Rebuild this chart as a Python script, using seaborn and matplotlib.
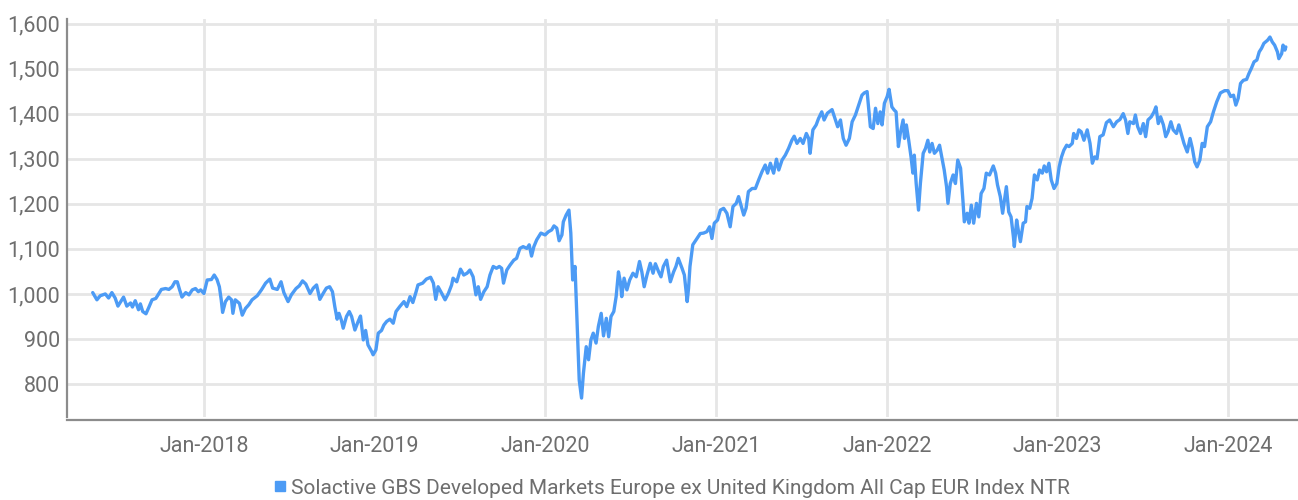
import matplotlib
matplotlib.use("Agg")
import matplotlib.pyplot as plt
import matplotlib.dates as mdates
from matplotlib.lines import Line2D
from matplotlib.ticker import FuncFormatter
import seaborn as sns
import pandas as pd

series_name = "Solactive GBS Developed Markets Europe ex United Kingdom All Cap EUR Index NTR"

dates = [
    "2017-05-08", "2017-05-17", "2017-05-24", "2017-06-04", "2017-06-11", "2017-06-18", "2017-06-25",
    "2017-07-01", "2017-07-13", "2017-07-20", "2017-07-28", "2017-08-01", "2017-08-07", "2017-08-14",
    "2017-08-18", "2017-08-23", "2017-08-30", "2017-09-05", "2017-09-12", "2017-09-20", "2017-10-02",
    "2017-10-11", "2017-10-18", "2017-10-25", "2017-10-31", "2017-11-05", "2017-11-10", "2017-11-15",
    "2017-11-23", "2017-11-30", "2017-12-07", "2017-12-14", "2017-12-20", "2017-12-25", "2018-01-01",
    "2018-01-08", "2018-01-17", "2018-01-23", "2018-01-29", "2018-02-03", "2018-02-07", "2018-02-10",
    "2018-02-16", "2018-02-23", "2018-03-01", "2018-03-04", "2018-03-09", "2018-03-18", "2018-03-24",
    "2018-03-31", "2018-04-07", "2018-04-14", "2018-04-25", "2018-05-04", "2018-05-13", "2018-05-22",
    "2018-05-28", "2018-06-07", "2018-06-15", "2018-06-21", "2018-06-28", "2018-06-30", "2018-07-07",
    "2018-07-17", "2018-07-24", "2018-07-31", "2018-08-07", "2018-08-16", "2018-08-23", "2018-08-30",
    "2018-09-06", "2018-09-13", "2018-09-20", "2018-09-27", "2018-10-03", "2018-10-08", "2018-10-13",
    "2018-10-17", "2018-10-22", "2018-10-26", "2018-11-02", "2018-11-08", "2018-11-13", "2018-11-20",
    "2018-11-27", "2018-12-02", "2018-12-08", "2018-12-13", "2018-12-18", "2018-12-26", "2018-12-29",
    "2019-01-04", "2019-01-09", "2019-01-16", "2019-01-21", "2019-01-27", "2019-02-03", "2019-02-10",
    "2019-02-16", "2019-02-24", "2019-03-05", "2019-03-11", "2019-03-18", "2019-03-24", "2019-03-31",
    "2019-04-04", "2019-04-14", "2019-04-22", "2019-05-01", "2019-05-07", "2019-05-12", "2019-05-17",
    "2019-05-25", "2019-06-01", "2019-06-08", "2019-06-15", "2019-06-18", "2019-06-26", "2019-07-04",
    "2019-07-11", "2019-07-18", "2019-07-24", "2019-07-31", "2019-08-06", "2019-08-11", "2019-08-16",
    "2019-08-23", "2019-08-30", "2019-09-05", "2019-09-12", "2019-09-19", "2019-09-25", "2019-09-30",
    "2019-10-04", "2019-10-11", "2019-10-18", "2019-10-26", "2019-11-01", "2019-11-08", "2019-11-15",
    "2019-11-23", "2019-11-28", "2019-12-03", "2019-12-08", "2019-12-14", "2019-12-23", "2020-01-01",
    "2020-01-08", "2020-01-15", "2020-01-20", "2020-01-26", "2020-01-31", "2020-02-06", "2020-02-09",
    "2020-02-15", "2020-02-21", "2020-02-25", "2020-02-29", "2020-03-05", "2020-03-10", "2020-03-14",
    "2020-03-19", "2020-03-23", "2020-03-29", "2020-04-03", "2020-04-08", "2020-04-13", "2020-04-19",
    "2020-04-24", "2020-04-30", "2020-05-05", "2020-05-11", "2020-05-16", "2020-05-21", "2020-05-27",
    "2020-06-01", "2020-06-06", "2020-06-10", "2020-06-13", "2020-06-18", "2020-06-24", "2020-06-30",
    "2020-07-07", "2020-07-14", "2020-07-21", "2020-07-26", "2020-07-31", "2020-08-06", "2020-08-13",
    "2020-08-19", "2020-08-24", "2020-08-31", "2020-09-05", "2020-09-10", "2020-09-17", "2020-09-25",
    "2020-10-02", "2020-10-07", "2020-10-12", "2020-10-20", "2020-10-25", "2020-10-31", "2020-11-03",
    "2020-11-06", "2020-11-12", "2020-11-19", "2020-11-28", "2020-12-05", "2020-12-12", "2020-12-18",
    "2020-12-23", "2020-12-28", "2021-01-04", "2021-01-10", "2021-01-17", "2021-01-24", "2021-01-31",
    "2021-02-06", "2021-02-13", "2021-02-18", "2021-02-23", "2021-03-01", "2021-03-06", "2021-03-11",
    "2021-03-19", "2021-03-26", "2021-04-02", "2021-04-09", "2021-04-16", "2021-04-21", "2021-04-27",
    "2021-05-04", "2021-05-10", "2021-05-15", "2021-05-22", "2021-05-29", "2021-06-05", "2021-06-12",
    "2021-06-17", "2021-06-23", "2021-06-30", "2021-07-06", "2021-07-13", "2021-07-18", "2021-07-21",
    "2021-07-27", "2021-08-03", "2021-08-08", "2021-08-15", "2021-08-20", "2021-08-27", "2021-09-06",
    "2021-09-11", "2021-09-18", "2021-09-24", "2021-09-30", "2021-10-06", "2021-10-13", "2021-10-19",
    "2021-10-26", "2021-11-02", "2021-11-09", "2021-11-14", "2021-11-20", "2021-11-27", "2021-12-03",
    "2021-12-08", "2021-12-13", "2021-12-18", "2021-12-22", "2021-12-27", "2022-01-02", "2022-01-06",
    "2022-01-12", "2022-01-17", "2022-01-21", "2022-01-26", "2022-01-30", "2022-02-05", "2022-02-08",
    "2022-02-12", "2022-02-17", "2022-02-22", "2022-02-26", "2022-03-01", "2022-03-05", "2022-03-10",
    "2022-03-14", "2022-03-20", "2022-03-25", "2022-03-30", "2022-04-03", "2022-04-08", "2022-04-13",
    "2022-04-19", "2022-04-24", "2022-04-30", "2022-05-04", "2022-05-09", "2022-05-12", "2022-05-17",
    "2022-05-23", "2022-05-28", "2022-06-02", "2022-06-08", "2022-06-13", "2022-06-16", "2022-06-22",
    "2022-06-26", "2022-07-01", "2022-07-06", "2022-07-12", "2022-07-17", "2022-07-22", "2022-07-28",
    "2022-08-02", "2022-08-09", "2022-08-17", "2022-08-22", "2022-08-26", "2022-09-01", "2022-09-06",
    "2022-09-10", "2022-09-14", "2022-09-19", "2022-09-24", "2022-09-29", "2022-10-01", "2022-10-06",
    "2022-10-10", "2022-10-14", "2022-10-20", "2022-10-25", "2022-10-28", "2022-11-03", "2022-11-08",
    "2022-11-13", "2022-11-19", "2022-11-24", "2022-11-30", "2022-12-04", "2022-12-09", "2022-12-14",
    "2022-12-19", "2022-12-25", "2022-12-31", "2023-01-05", "2023-01-10", "2023-01-15", "2023-01-21",
    "2023-01-26", "2023-02-02", "2023-02-05", "2023-02-11", "2023-02-16", "2023-02-21", "2023-02-27",
    "2023-03-06", "2023-03-12", "2023-03-17", "2023-03-22", "2023-03-27", "2023-04-02", "2023-04-09",
    "2023-04-16", "2023-04-23", "2023-05-01", "2023-05-08", "2023-05-15", "2023-05-22", "2023-05-27",
    "2023-06-01", "2023-06-05", "2023-06-13", "2023-06-17", "2023-06-22", "2023-06-28", "2023-07-04",
    "2023-07-09", "2023-07-14", "2023-07-21", "2023-07-27", "2023-07-31", "2023-08-05", "2023-08-10",
    "2023-08-16", "2023-08-21", "2023-08-26", "2023-09-01", "2023-09-06", "2023-09-13", "2023-09-18",
    "2023-09-23", "2023-09-29", "2023-10-06", "2023-10-12", "2023-10-17", "2023-10-22", "2023-10-27",
    "2023-11-02", "2023-11-07", "2023-11-12", "2023-11-18", "2023-11-25", "2023-12-01", "2023-12-08",
    "2023-12-16", "2023-12-25", "2024-01-01", "2024-01-07", "2024-01-13", "2024-01-18", "2024-01-23",
    "2024-01-28", "2024-02-03", "2024-02-10", "2024-02-15", "2024-02-20", "2024-02-26", "2024-03-03",
    "2024-03-08", "2024-03-13", "2024-03-18", "2024-03-26", "2024-03-31", "2024-04-05", "2024-04-10",
    "2024-04-16", "2024-04-19", "2024-04-25", "2024-04-28", "2024-05-02", "2024-05-04",
]

values = [
    1003, 987, 996, 1000, 991, 1003, 991,
    973, 993, 973, 980, 971, 985, 965,
    978, 961, 956, 970, 987, 990, 1010,
    1012, 1010, 1016, 1027, 1027, 1009, 993,
    1003, 998, 1009, 1012, 1005, 1009, 1001,
    1031, 1032, 1042, 1032, 1016, 987, 959,
    983, 993, 987, 957, 987, 979, 953,
    968, 976, 987, 996, 1009, 1024, 1033,
    1013, 1010, 1027, 1003, 987, 983, 998,
    1012, 1018, 1029, 1022, 1001, 1013, 1020,
    988, 1001, 1013, 1016, 1005, 972, 944,
    957, 942, 924, 950, 961, 950, 920,
    939, 951, 898, 919, 887, 872, 865,
    876, 913, 919, 931, 939, 944, 935,
    961, 972, 983, 972, 994, 981, 1005,
    1020, 1024, 1033, 1037, 1024, 988, 1016,
    1001, 987, 1001, 1020, 1035, 1027, 1055,
    1042, 1046, 1053, 1038, 998, 1016, 988,
    1005, 1016, 1042, 1061, 1057, 1061, 1057,
    1024, 1053, 1064, 1075, 1079, 1101, 1105,
    1101, 1109, 1084, 1105, 1120, 1135, 1131,
    1138, 1142, 1151, 1146, 1118, 1131, 1160,
    1175, 1186, 1135, 1031, 1061, 920, 809,
    769, 824, 883, 854, 898, 913, 891,
    928, 957, 907, 946, 905, 950, 961,
    994, 1049, 1027, 994, 1035, 1009, 1031,
    1046, 1038, 1072, 1049, 1016, 1042, 1068,
    1046, 1067, 1049, 1038, 1061, 1075, 1027,
    1049, 1061, 1079, 1057, 1042, 983, 1013,
    1061, 1109, 1120, 1134, 1135, 1138, 1149,
    1123, 1157, 1164, 1186, 1190, 1179, 1149,
    1194, 1201, 1216, 1197, 1175, 1190, 1227,
    1234, 1234, 1253, 1271, 1286, 1268, 1290,
    1268, 1299, 1275, 1297, 1308, 1323, 1341,
    1350, 1334, 1345, 1334, 1356, 1345, 1312,
    1364, 1375, 1389, 1404, 1386, 1401, 1409,
    1393, 1371, 1386, 1345, 1330, 1345, 1382,
    1397, 1419, 1441, 1446, 1449, 1371, 1367,
    1412, 1378, 1404, 1375, 1423, 1438, 1454,
    1415, 1408, 1404, 1327, 1356, 1386, 1345,
    1375, 1341, 1304, 1268, 1308, 1245, 1186,
    1245, 1312, 1323, 1341, 1315, 1334, 1312,
    1319, 1330, 1297, 1275, 1238, 1201, 1245,
    1264, 1245, 1297, 1279, 1208, 1160, 1179,
    1157, 1197, 1157, 1201, 1171, 1223, 1234,
    1268, 1264, 1284, 1268, 1242, 1216, 1179,
    1208, 1238, 1182, 1171, 1127, 1105, 1164,
    1138, 1116, 1157, 1160, 1194, 1190, 1212,
    1264, 1253, 1275, 1268, 1284, 1271, 1290,
    1253, 1234, 1245, 1282, 1304, 1319, 1330,
    1327, 1334, 1356, 1345, 1364, 1360, 1341,
    1364, 1334, 1290, 1304, 1300, 1349, 1353,
    1380, 1386, 1371, 1382, 1387, 1400, 1386,
    1356, 1382, 1378, 1397, 1371, 1356, 1378,
    1349, 1386, 1393, 1404, 1415, 1378, 1393,
    1375, 1349, 1360, 1382, 1364, 1356, 1375,
    1356, 1334, 1315, 1345, 1323, 1293, 1282,
    1297, 1334, 1327, 1371, 1382, 1404, 1426,
    1446, 1451, 1451, 1438, 1441, 1419, 1434,
    1467, 1474, 1476, 1489, 1500, 1515, 1519,
    1537, 1545, 1556, 1563, 1570, 1559, 1552,
    1537, 1522, 1533, 1552, 1541, 1548,
]

y_ticks = [800, 900, 1000, 1100, 1200, 1300, 1400, 1500, 1600]
x_tick_dates = ["2018-01-01", "2019-01-01", "2020-01-01", "2021-01-01",
                "2022-01-01", "2023-01-01", "2024-01-01"]

df = pd.DataFrame({"date": pd.to_datetime(dates), "value": values})

sns.set_theme(style="white")
plt.rcParams["font.family"] = ["Roboto", "DejaVu Sans"]

line_color = "#4c9bf5"
text_color = "#6e6e6e"

fig = plt.figure(figsize=(12.98, 5.0), dpi=100)
ax = fig.add_axes([67 / 1298, 1 - 417 / 500, 1 - 67 / 1298, (417 - 19) / 500])

sns.lineplot(data=df, x="date", y="value", ax=ax, color=line_color, linewidth=2.4, legend=False)

ax.set_xlim(pd.Timestamp("2017-03-14"), pd.Timestamp("2024-05-30"))
ax.set_ylim(727, 1610)
ax.set_yticks(y_ticks)
ax.yaxis.set_major_formatter(FuncFormatter(lambda v, p: f"{int(v):,}"))
ax.set_xticks(pd.to_datetime(x_tick_dates))
ax.xaxis.set_major_formatter(mdates.DateFormatter("%b-%Y"))

ax.grid(True, axis="both", color="#e6e6e6", linewidth=2.0)
ax.set_axisbelow(True)
for s in ["top", "right"]:
    ax.spines[s].set_visible(False)
for s in ["left", "bottom"]:
    ax.spines[s].set_color("#8c8c8c")
    ax.spines[s].set_linewidth(1.6)
ax.spines["bottom"].set_position(("outward", 2))

ax.tick_params(axis="both", length=0, labelsize=15.5, colors=text_color)
ax.tick_params(axis="y", pad=5)
ax.tick_params(axis="x", pad=12)
ax.set_xlabel("")
ax.set_ylabel("")

handle = Line2D([], [], linestyle="none", marker="s", markersize=7.5,
                markerfacecolor=line_color, markeredgecolor=line_color)
leg = fig.legend([handle], [series_name], loc="center", bbox_to_anchor=(0.516, 0.024),
                 frameon=False, fontsize=15.0, handletextpad=0.0, handlelength=1.0,
                 borderaxespad=0)
for t in leg.get_texts():
    t.set_color(text_color)

fig.savefig("out.png", dpi=100)
